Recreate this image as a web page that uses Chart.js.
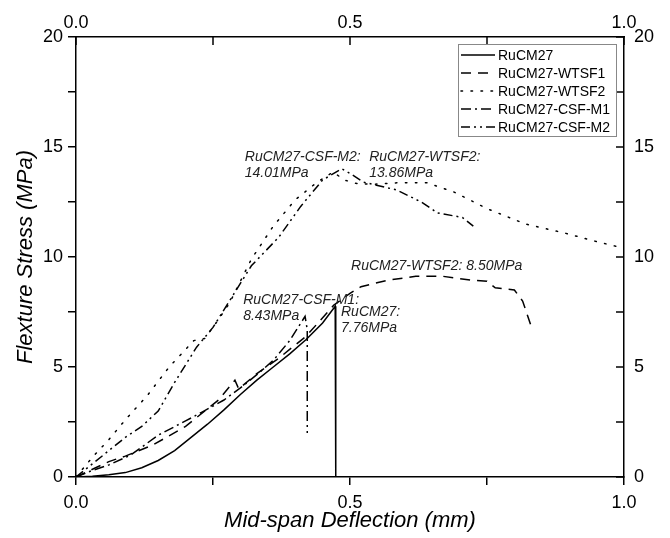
<!DOCTYPE html>
<html><head><meta charset="utf-8">
<script src="https://cdn.jsdelivr.net/npm/chart.js@4.4.1/dist/chart.umd.min.js"></script>
<style>html,body{margin:0;padding:0;background:#fff}</style>
</head><body>
<canvas id="c" width="670" height="538"></canvas>
<script>
// ---- data ----
const seriesNames = ['RuCM27', 'RuCM27-WTSF1', 'RuCM27-WTSF2', 'RuCM27-CSF-M1', 'RuCM27-CSF-M2'];

const rucm27X = [0, 0.03, 0.06, 0.09, 0.12, 0.15, 0.18, 0.21, 0.24, 0.27, 0.3, 0.33, 0.36, 0.39, 0.42, 0.45, 0.473, 0.474];
const rucm27Y = [0, 0.03, 0.1, 0.2, 0.42, 0.75, 1.2, 1.8, 2.4, 3.05, 3.75, 4.4, 5.0, 5.6, 6.25, 7.0, 7.76, 0];

const wtsf1X = [0, 0.03, 0.06, 0.09, 0.14, 0.2, 0.26, 0.29, 0.297, 0.33, 0.37, 0.42, 0.47, 0.5, 0.52, 0.57, 0.62, 0.67, 0.72, 0.75, 0.765, 0.8, 0.815, 0.83];
const wtsf1Y = [0, 0.35, 0.7, 0.95, 1.45, 2.3, 3.5, 4.4, 4.0, 4.7, 5.4, 6.4, 7.8, 8.35, 8.65, 8.95, 9.12, 9.12, 8.95, 8.9, 8.6, 8.5, 8.0, 6.9];

const wtsf2X = [0, 0.03, 0.06, 0.09, 0.13, 0.17, 0.2, 0.215, 0.235, 0.25, 0.28, 0.32, 0.36, 0.4, 0.44, 0.469, 0.49, 0.51, 0.54, 0.59, 0.64, 0.69, 0.75, 0.82, 0.89, 0.95, 1.0];
const wtsf2Y = [0, 0.9, 1.7, 2.6, 3.7, 5.0, 5.8, 6.2, 6.3, 6.8, 7.9, 9.9, 11.4, 12.6, 13.4, 13.86, 13.5, 13.35, 13.3, 13.38, 13.38, 12.95, 12.2, 11.5, 11.1, 10.7, 10.4];

const csfM1X = [0, 0.03, 0.06, 0.1, 0.15, 0.2, 0.23, 0.27, 0.3, 0.33, 0.36, 0.39, 0.418, 0.422, 0.422];
const csfM1Y = [0, 0.3, 0.55, 1.0, 1.9, 2.55, 2.95, 3.5, 4.05, 4.65, 5.3, 6.2, 7.3, 6.7, 2.0];

const csfM2X = [0, 0.03, 0.06, 0.09, 0.12, 0.15, 0.18, 0.22, 0.25, 0.29, 0.32, 0.37, 0.41, 0.45, 0.485, 0.5, 0.525, 0.585, 0.63, 0.66, 0.705, 0.725];
const csfM2Y = [0, 0.6, 1.2, 1.8, 2.3, 3.0, 4.3, 5.9, 6.8, 8.4, 9.6, 10.9, 12.3, 13.5, 14.01, 13.8, 13.4, 13.05, 12.5, 12.0, 11.8, 11.4];

const annotationTexts = [
  ['RuCM27-CSF-M2:', '14.01MPa'],
  ['RuCM27-WTSF2:', '13.86MPa'],
  ['RuCM27-WTSF2: 8.50MPa'],
  ['RuCM27-CSF-M1:', '8.43MPa'],
  ['RuCM27:', '7.76MPa']
];
const annotationAnchorsX = [0.308, 0.535, 0.502, 0.305, 0.4836];
const annotationAnchorsY = [14.55, 14.55, 9.6, 8.05, 7.5];

const xMin = 0, xMax = 1, xStep = 0.25;
const yMin = 0, yMax = 20, yStep = 2.5;

// ---- build ----
const FONT = "'Liberation Sans', Arial, sans-serif";
function pts(xs, ys) { return xs.map((x, i) => ({x: x, y: ys[i]})); }
const dashes = [[], [10, 7], [1.5, 8.5], [10, 4, 2, 4], [9, 4, 2, 4, 2, 4]];
const dataSets = [pts(rucm27X, rucm27Y), pts(wtsf1X, wtsf1Y), pts(wtsf2X, wtsf2Y), pts(csfM1X, csfM1Y), pts(csfM2X, csfM2Y)];

const datasets = dataSets.map((d, i) => ({
  label: seriesNames[i], data: d, borderColor: '#000', backgroundColor: '#000',
  borderWidth: 1.5, borderDash: dashes[i], pointRadius: 0, fill: false, tension: 0,
  borderCapStyle: i === 2 ? 'round' : 'butt'
}));

const isMajor = (v, m) => Math.abs(v / m - Math.round(v / m)) < 1e-9;
const xLabel = v => isMajor(v, 0.5) ? v.toFixed(1) : '';
const yLabel = v => isMajor(v, 5) ? String(v) : '';

const tickFont = {family: FONT, size: 18};

const decor = {
  id: 'decor',
  afterDraw(chart) {
    const ctx = chart.ctx;
    const xs = chart.scales.x2, ys = chart.scales.y2;
    const area = chart.chartArea;
    ctx.save();
    ctx.strokeStyle = '#000'; ctx.lineWidth = 1.5; ctx.setLineDash([]);
    // inward ticks on top and right
    xs.ticks.forEach(t => {
      const px = Math.round(xs.getPixelForValue(t.value));
      ctx.beginPath(); ctx.moveTo(px, area.top); ctx.lineTo(px, area.top + 8); ctx.stroke();
    });
    ys.ticks.forEach(t => {
      const py = Math.round(ys.getPixelForValue(t.value));
      ctx.beginPath(); ctx.moveTo(area.right, py); ctx.lineTo(area.right - 8, py); ctx.stroke();
    });
    // annotations
    const sx = chart.scales.x, sy = chart.scales.y;
    ctx.fillStyle = '#222';
    ctx.font = 'italic 14px ' + FONT;
    ctx.textBaseline = 'middle'; ctx.textAlign = 'left';
    annotationTexts.forEach((lines, i) => {
      const px = sx.getPixelForValue(annotationAnchorsX[i]);
      const py = sy.getPixelForValue(annotationAnchorsY[i]);
      lines.forEach((ln, j) => ctx.fillText(ln, px, py + j * 16));
    });
    // legend
    const lx = 458, ly = 44, lw = 158, lh = 92;
    ctx.fillStyle = '#fff';
    ctx.fillRect(lx, ly, lw, lh);
    ctx.strokeStyle = '#888'; ctx.lineWidth = 1;
    ctx.strokeRect(lx + 0.5, ly + 0.5, lw, lh);
    ctx.font = '14px ' + FONT;
    ctx.fillStyle = '#000';
    chart.data.datasets.forEach((ds, i) => {
      const y = ly + 11 + i * 18;
      ctx.strokeStyle = '#000'; ctx.lineWidth = 1.6;
      ctx.setLineDash(ds.borderDash);
      ctx.lineCap = ds.borderCapStyle;
      ctx.beginPath(); ctx.moveTo(lx + 3, y); ctx.lineTo(lx + 37, y); ctx.stroke();
      ctx.setLineDash([]); ctx.lineCap = 'butt';
      ctx.fillText(ds.label, lx + 40, y + 1);
    });
    ctx.restore();
  }
};

new Chart(document.getElementById('c'), {
  type: 'line',
  data: {datasets: datasets},
  plugins: [decor],
  options: {
    responsive: false, animation: false, devicePixelRatio: 1,
    layout: {padding: 0},
    plugins: {legend: {display: false}, tooltip: {enabled: false}},
    scales: {
      x: {
        type: 'linear', position: 'bottom', min: xMin, max: xMax,
        ticks: {stepSize: xStep, callback: xLabel, font: tickFont, color: '#000', maxRotation: 0, autoSkip: false, padding: 7},
        grid: {display: true, drawOnChartArea: false, drawTicks: true, tickLength: 8, color: '#000', lineWidth: 1.5},
        border: {display: true, color: '#000', width: 1.5},
        title: {display: true, text: 'Mid-span Deflection (mm)', color: '#000', font: {family: FONT, size: 22, style: 'italic', lineHeight: 1.2}, padding: {top: 0, bottom: 4}},
        afterFit: s => { s.height = 61; }
      },
      x2: {
        type: 'linear', position: 'top', min: xMin, max: xMax,
        ticks: {stepSize: xStep, callback: xLabel, font: tickFont, color: '#000', maxRotation: 0, autoSkip: false, padding: 3},
        grid: {display: true, drawOnChartArea: false, drawTicks: false, color: '#000'},
        border: {display: true, color: '#000', width: 1.5},
        afterFit: s => { s.height = 37; }
      },
      y: {
        type: 'linear', position: 'left', min: yMin, max: yMax,
        ticks: {stepSize: yStep, callback: yLabel, font: tickFont, color: '#000', autoSkip: false, padding: 5},
        grid: {display: true, drawOnChartArea: false, drawTicks: true, tickLength: 8, color: '#000', lineWidth: 1.5},
        border: {display: true, color: '#000', width: 1.5},
        title: {display: true, text: 'Flexture Stress (MPa)', color: '#000', font: {family: FONT, size: 22, style: 'italic', lineHeight: 1.2}, padding: {top: 13, bottom: 0}},
        afterFit: s => { s.width = 76; }
      },
      y2: {
        type: 'linear', position: 'right', min: yMin, max: yMax,
        ticks: {stepSize: yStep, callback: yLabel, font: tickFont, color: '#000', autoSkip: false, padding: 10},
        grid: {display: true, drawOnChartArea: false, drawTicks: false, color: '#000'},
        border: {display: true, color: '#000', width: 1.5},
        afterFit: s => { s.width = 46; }
      }
    }
  }
});
</script>
</body></html>
